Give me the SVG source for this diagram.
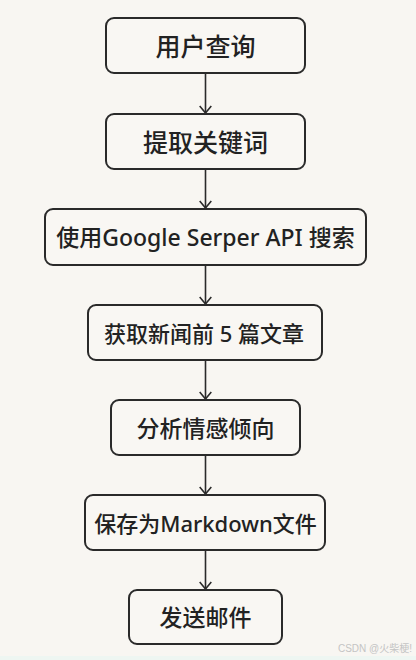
<svg xmlns="http://www.w3.org/2000/svg" width="416" height="660" viewBox="0 0 416 660">
<defs>
<style>
.box{fill:#f9f7f3;stroke:#2a2a2a;stroke-width:2}
.lbl{font-family:"Noto Sans","Noto Sans CJK SC",sans-serif;font-weight:500;fill:#222;text-anchor:middle;dominant-baseline:central}
.big{font-size:25px}
.mid{font-size:23px}
.sm{font-size:22px}
.conn line{stroke:#2a2a2a;stroke-width:1.6}
.wm{font-family:"Liberation Sans","Noto Sans CJK SC",sans-serif;font-size:10px;fill:#c4c4c4;text-anchor:end}
</style>
<marker id="arr" viewBox="0 0 10 14" refX="9" refY="7" markerWidth="10" markerHeight="14" markerUnits="userSpaceOnUse" orient="auto">
<path d="M2,1.2 L9,7 L2,12.8" fill="none" stroke="#2a2a2a" stroke-width="1.6"/>
</marker>
</defs>
<rect width="416" height="660" fill="#f8f6f2"/>
<rect y="656" width="416" height="4" fill="#eef6f2"/>
<g id="connectors" class="conn">
<line x1="205.5" y1="73" x2="205.5" y2="113" marker-end="url(#arr)"/>
<line x1="205.5" y1="169" x2="205.5" y2="208" marker-end="url(#arr)"/>
<line x1="205.5" y1="265" x2="205.5" y2="304" marker-end="url(#arr)"/>
<line x1="205.5" y1="360" x2="205.5" y2="399" marker-end="url(#arr)"/>
<line x1="205.5" y1="455" x2="205.5" y2="494" marker-end="url(#arr)"/>
<line x1="205.5" y1="550" x2="205.5" y2="589" marker-end="url(#arr)"/>
</g>
<g id="n1"><rect class="box" x="106" y="18" width="199" height="55" rx="8"/><text class="lbl big" x="205.5" y="45.5">用户查询</text></g>
<g id="n2"><rect class="box" x="106" y="114" width="199" height="55" rx="8"/><text class="lbl big" x="205.5" y="141.5">提取关键词</text></g>
<g id="n3"><rect class="box" x="45" y="209" width="321" height="56" rx="8"/><text class="lbl mid" x="205.5" y="237">使用Google Serper API 搜索</text></g>
<g id="n4"><rect class="box" x="88" y="305" width="234" height="55" rx="8"/><text class="lbl sm" x="204" y="332.5">获取新闻前 5 篇文章</text></g>
<g id="n5"><rect class="box" x="111" y="400" width="189" height="55" rx="8"/><text class="lbl mid" x="205.5" y="427.5">分析情感倾向</text></g>
<g id="n6"><rect class="box" x="85" y="495" width="240" height="55" rx="8"/><text class="lbl sm" x="205.5" y="522.5">保存为Markdown文件</text></g>
<g id="n7"><rect class="box" x="129" y="590" width="153" height="54" rx="8"/><text class="lbl mid" x="205.5" y="617">发送邮件</text></g>
<text class="wm" x="412" y="652">CSDN @火柴梗!</text>
</svg>
